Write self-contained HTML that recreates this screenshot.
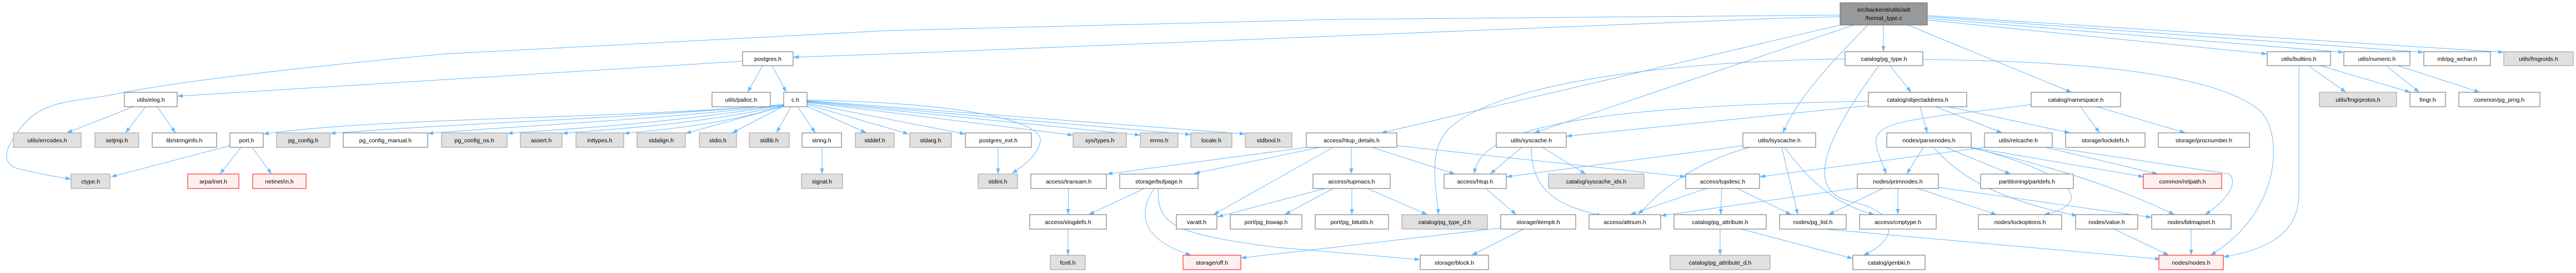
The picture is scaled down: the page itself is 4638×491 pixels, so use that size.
<!DOCTYPE html>
<html><head><meta charset="utf-8"><style>
html,body{margin:0;padding:0;background:#fff;}
svg{display:block;}
text{font-family:"Liberation Sans",sans-serif;font-size:10.5px;fill:#000;}
.w{fill:#fff;stroke:#666;stroke-width:1;}
.g{fill:#e0e0e0;stroke:#999;stroke-width:1;}
.r{fill:#fff0f0;stroke:#f00;stroke-width:1;}
.e{fill:none;stroke:#63b8ff;stroke-width:1;marker-end:url(#a);}
</style></head><body>
<svg width="4638" height="491" viewBox="0 0 4638 491" xmlns="http://www.w3.org/2000/svg">
<defs><marker id="a" markerUnits="userSpaceOnUse" markerWidth="11" markerHeight="8" refX="10" refY="3.5" orient="auto"><path d="M0,0 L10,3.5 L0,7 z" fill="#63b8ff"/></marker></defs>
<g>
<!-- root edges -->
<path class="e" d="M3391,45 L3391,93"/>
<path class="e" d="M3435,45 L3730,166"/>
<path class="e" d="M3470,36 L4082,97"/>
<path class="e" d="M3470,33 L4220,94"/>
<path class="e" d="M3470,30 L4364,94"/>
<path class="e" d="M3470,28 L4508,94"/>
<path class="e" d="M3363,45 C3300,110 3240,170 3210,239"/>
<path class="e" d="M3338,45 L2762,239"/>
<path class="e" d="M3313,45 L2487,239"/>
<path class="e" d="M3313,30 L3200,33 L2400,65 L1600,97 L1428,103"/>
<path class="e" d="M3313,27 L2400,35 L1600,55 L800,97 C500,125 300,150 204,170 C120,185 70,180 30,240 C0,280 10,300 40,305 C70,312 100,318 128,322"/>
<!-- postgres -->
<path class="e" d="M1337,110 L319,173"/>
<path class="e" d="M1373,118 L1346,166"/>
<path class="e" d="M1390,118 L1416,166"/>
<!-- c.h -->
<path class="e" d="M1411,188 C1100,215 700,210 474,241"/>
<path class="e" d="M1411,188 C1100,215 850,220 594,240"/>
<path class="e" d="M1411,189 C1150,218 950,225 770,240"/>
<path class="e" d="M1411,189 C1200,222 1050,230 913,240"/>
<path class="e" d="M1411,190 C1250,225 1100,232 1012,240"/>
<path class="e" d="M1411,190 C1300,225 1200,232 1123,240"/>
<path class="e" d="M1411,191 L1234,240"/>
<path class="e" d="M1411,191 L1318,239"/>
<path class="e" d="M1424,192 L1398,239"/>
<path class="e" d="M1436,192 L1468,239"/>
<path class="e" d="M1453,191 L1560,239"/>
<path class="e" d="M1453,188 L1636,241"/>
<path class="e" d="M1453,186 L1738,241"/>
<path class="e" d="M1453,184 L1932,243"/>
<path class="e" d="M1453,183 L2053,243"/>
<path class="e" d="M1453,182 L2144,242"/>
<path class="e" d="M1453,181 L2242,241"/>
<path class="e" d="M1453,180 C1750,185 1880,220 1873,255 C1868,280 1840,300 1822,312"/>
<path class="e" d="M1480,265 L1480,313"/>
<!-- elog / port -->
<path class="e" d="M240,192 L120,239"/>
<path class="e" d="M262,192 L226,239"/>
<path class="e" d="M283,192 L316,239"/>
<path class="e" d="M414,262 L200,318"/>
<path class="e" d="M434,265 L396,313"/>
<path class="e" d="M454,265 L489,313"/>
<path class="e" d="M1797,265 L1797,313"/>
<!-- htup_details -->
<path class="e" d="M2352,265 L1993,313"/>
<path class="e" d="M2376,265 L2150,312"/>
<path class="e" d="M2400,265 L2185,386"/>
<path class="e" d="M2433,265 L2433,313"/>
<path class="e" d="M2470,265 L2620,313"/>
<path class="e" d="M2515,262 L3035,318"/>
<!-- tupmacs -->
<path class="e" d="M2386,339 L2192,390"/>
<path class="e" d="M2400,339 L2313,386"/>
<path class="e" d="M2434,339 L2434,386"/>
<path class="e" d="M2462,339 L2570,386"/>
<!-- bufpage / transam / xlogdefs -->
<path class="e" d="M2060,339 L1960,386"/>
<path class="e" d="M2078,339 C2050,380 2050,430 2145,459"/>
<path class="e" d="M2085,339 C2085,400 2100,420 2300,445 L2557,467"/>
<path class="e" d="M1924,339 L1923,386"/>
<path class="e" d="M1923,412 L1923,459"/>
<!-- htup / itemptr -->
<path class="e" d="M2675,339 L2730,386"/>
<path class="e" d="M2743,412 L2650,459"/>
<path class="e" d="M2702,410 L2400,445 L2234,464"/>
<!-- syscache -->
<path class="e" d="M2740,265 L2683,313"/>
<path class="e" d="M2777,265 L2855,313"/>
<path class="e" d="M2757,265 C2757,340 2800,370 2885,388"/>
<!-- lsyscache -->
<path class="e" d="M3138,262 L2712,318"/>
<path class="e" d="M3150,265 C3060,290 3000,330 2950,386"/>
<path class="e" d="M3208,265 L3237,386"/>
<path class="e" d="M3213,265 C3260,330 3310,370 3375,386"/>
<!-- tupdesc / pg_attribute -->
<path class="e" d="M3072,339 L2935,386"/>
<path class="e" d="M3100,339 L3098,386"/>
<path class="e" d="M3128,339 L3225,386"/>
<path class="e" d="M3097,412 L3097,459"/>
<path class="e" d="M3135,412 L3336,465"/>
<!-- objectaddress -->
<path class="e" d="M3364,182 C2950,190 2660,215 2655,313"/>
<path class="e" d="M3364,190 L2820,245"/>
<path class="e" d="M3457,192 L3470,239"/>
<path class="e" d="M3485,192 L3605,239"/>
<path class="e" d="M3508,192 L3727,239"/>
<!-- namespace -->
<path class="e" d="M3657,188 C3450,215 3370,215 3378,260 C3382,280 3390,295 3396,313"/>
<path class="e" d="M3746,192 L3780,239"/>
<path class="e" d="M3775,192 L3935,239"/>
<!-- parsenodes -->
<path class="e" d="M3463,265 L3433,313"/>
<path class="e" d="M3503,265 L3620,313"/>
<path class="e" d="M3481,265 C3530,320 3600,360 3740,388"/>
<path class="e" d="M3549,265 C3760,320 3760,370 3680,386"/>
<path class="e" d="M3549,265 L3860,318"/>
<path class="e" d="M3549,266 C3700,300 3820,340 3915,386"/>
<!-- relcache -->
<path class="e" d="M3573,265 L3168,318"/>
<path class="e" d="M3683,265 L3885,313"/>
<path class="e" d="M3695,265 L4014,313 C4030,330 4010,360 3970,386"/>
<!-- primnodes -->
<path class="e" d="M3344,338 L2990,388"/>
<path class="e" d="M3390,339 L3292,386"/>
<path class="e" d="M3417,339 L3417,386"/>
<path class="e" d="M3453,339 L3595,386"/>
<path class="e" d="M3490,337 L3874,391"/>
<!-- pg_type.h -->
<path class="e" d="M3403,118 L3441,166"/>
<path class="e" d="M3322,106 C3000,110 2700,150 2610,230 C2570,270 2585,330 2590,386"/>
<path class="e" d="M3383,118 C3300,230 3240,340 3330,362 C3420,380 3420,430 3355,459"/>
<path class="e" d="M3462,107 C3800,110 4000,140 4070,200 C4110,240 4110,380 3980,459"/>
<!-- to nodes.h -->
<path class="e" d="M3285,412 L3890,466"/>
<path class="e" d="M3806,412 L3905,459"/>
<path class="e" d="M3945,412 L3945,459"/>
<!-- builtins / numeric -->
<path class="e" d="M4156,118 L4224,166"/>
<path class="e" d="M4177,118 L4340,166"/>
<path class="e" d="M4139,118 L4139,350 C4139,420 4080,450 4003,462"/>
<path class="e" d="M4296,118 L4356,166"/>
<path class="e" d="M4317,118 L4465,166"/>
</g>
<g text-anchor="middle">
<!-- root -->
<rect x="3313" y="5" width="157" height="40" fill="#999" stroke="#666"/>
<text x="3391.5" y="21">src/backend/utils/adt</text><text x="3391.5" y="36">/format_type.c</text>
<!-- row1 -->
<rect class="w" x="1337" y="93" width="91" height="25"/><text x="1382.5" y="109.5">postgres.h</text>
<rect class="w" x="3322" y="93" width="140" height="25"/><text x="3392" y="109.5">catalog/pg_type.h</text>
<rect class="w" x="4082" y="93" width="114" height="25"/><text x="4139" y="109.5">utils/builtins.h</text>
<rect class="w" x="4220" y="93" width="119" height="25"/><text x="4279.5" y="109.5">utils/numeric.h</text>
<rect class="w" x="4364" y="93" width="120" height="25"/><text x="4424" y="109.5">mb/pg_wchar.h</text>
<rect class="g" x="4508" y="93" width="125" height="25"/><text x="4570.5" y="109.5">utils/fmgroids.h</text>
<!-- row2 -->
<rect class="w" x="224" y="166" width="95" height="26"/><text x="271.5" y="183">utils/elog.h</text>
<rect class="w" x="1282" y="166" width="105" height="26"/><text x="1334.5" y="183">utils/palloc.h</text>
<rect class="w" x="1411" y="166" width="42" height="26"/><text x="1432" y="183">c.h</text>
<rect class="w" x="3364" y="166" width="177" height="26"/><text x="3452.5" y="183">catalog/objectaddress.h</text>
<rect class="w" x="3657" y="166" width="161" height="26"/><text x="3737.5" y="183">catalog/namespace.h</text>
<rect class="g" x="4176" y="166" width="139" height="26"/><text x="4245.5" y="183">utils/fmgrprotos.h</text>
<rect class="w" x="4339" y="166" width="64" height="26"/><text x="4371" y="183">fmgr.h</text>
<rect class="w" x="4427" y="166" width="146" height="26"/><text x="4500" y="183">common/pg_prng.h</text>
<!-- row3 -->
<rect class="g" x="24" y="239" width="122" height="26"/><text x="85" y="256">utils/errcodes.h</text>
<rect class="g" x="171" y="239" width="79" height="26"/><text x="210.5" y="256">setjmp.h</text>
<rect class="w" x="274" y="239" width="116" height="26"/><text x="332" y="256">lib/stringinfo.h</text>
<rect class="w" x="414" y="239" width="60" height="26"/><text x="444" y="256">port.h</text>
<rect class="g" x="498" y="239" width="96" height="26"/><text x="546" y="256">pg_config.h</text>
<rect class="w" x="618" y="239" width="152" height="26"/><text x="694" y="256">pg_config_manual.h</text>
<rect class="g" x="795" y="239" width="118" height="26"/><text x="854" y="256">pg_config_os.h</text>
<rect class="g" x="937" y="239" width="75" height="26"/><text x="974.5" y="256">assert.h</text>
<rect class="g" x="1037" y="239" width="86" height="26"/><text x="1080" y="256">inttypes.h</text>
<rect class="g" x="1147" y="239" width="87" height="26"/><text x="1190.5" y="256">stdalign.h</text>
<rect class="g" x="1259" y="239" width="67" height="26"/><text x="1292.5" y="256">stdio.h</text>
<rect class="g" x="1349" y="239" width="72" height="26"/><text x="1385" y="256">stdlib.h</text>
<rect class="w" x="1444" y="239" width="71" height="26"/><text x="1479.5" y="256">string.h</text>
<rect class="g" x="1540" y="239" width="70" height="26"/><text x="1575" y="256">stddef.h</text>
<rect class="g" x="1638" y="239" width="75" height="26"/><text x="1675.5" y="256">stdarg.h</text>
<rect class="w" x="1738" y="239" width="119" height="26"/><text x="1797.5" y="256">postgres_ext.h</text>
<rect class="g" x="1932" y="239" width="96" height="26"/><text x="1980" y="256">sys/types.h</text>
<rect class="g" x="2053" y="239" width="68" height="26"/><text x="2087" y="256">errno.h</text>
<rect class="g" x="2144" y="239" width="74" height="26"/><text x="2181" y="256">locale.h</text>
<rect class="g" x="2242" y="239" width="84" height="26"/><text x="2284" y="256">stdbool.h</text>
<rect class="w" x="2352" y="239" width="163" height="26"/><text x="2433.5" y="256">access/htup_details.h</text>
<rect class="w" x="2694" y="239" width="126" height="26"/><text x="2757" y="256">utils/syscache.h</text>
<rect class="w" x="3138" y="239" width="131" height="26"/><text x="3203.5" y="256">utils/lsyscache.h</text>
<rect class="w" x="3397" y="239" width="152" height="26"/><text x="3473" y="256">nodes/parsenodes.h</text>
<rect class="w" x="3573" y="239" width="122" height="26"/><text x="3634" y="256">utils/relcache.h</text>
<rect class="w" x="3719" y="239" width="143" height="26"/><text x="3790.5" y="256">storage/lockdefs.h</text>
<rect class="w" x="3886" y="239" width="164" height="26"/><text x="3968" y="256">storage/procnumber.h</text>
<!-- row4 -->
<rect class="g" x="128" y="313" width="70" height="26"/><text x="163" y="330">ctype.h</text>
<rect class="r" x="338" y="313" width="92" height="26"/><text x="384" y="330">arpa/inet.h</text>
<rect class="r" x="455" y="313" width="96" height="26"/><text x="503" y="330">netinet/in.h</text>
<rect class="g" x="1443" y="313" width="74" height="26"/><text x="1480" y="330">signal.h</text>
<rect class="g" x="1761" y="313" width="71" height="26"/><text x="1796.5" y="330">stdint.h</text>
<rect class="w" x="1856" y="313" width="136" height="26"/><text x="1924" y="330">access/transam.h</text>
<rect class="w" x="2016" y="313" width="141" height="26"/><text x="2086.5" y="330">storage/bufpage.h</text>
<rect class="w" x="2364" y="313" width="139" height="26"/><text x="2433.5" y="330">access/tupmacs.h</text>
<rect class="w" x="2600" y="313" width="112" height="26"/><text x="2656" y="330">access/htup.h</text>
<rect class="g" x="2788" y="313" width="172" height="26"/><text x="2874" y="330">catalog/syscache_ids.h</text>
<rect class="w" x="3035" y="313" width="133" height="26"/><text x="3101.5" y="330">access/tupdesc.h</text>
<rect class="w" x="3344" y="313" width="146" height="26"/><text x="3417" y="330">nodes/primnodes.h</text>
<rect class="w" x="3566" y="313" width="167" height="26"/><text x="3649.5" y="330">partitioning/partdefs.h</text>
<rect class="r" x="3859" y="313" width="141" height="26"/><text x="3929.5" y="330">common/relpath.h</text>
<!-- row5 -->
<rect class="w" x="1854" y="386" width="138" height="26"/><text x="1923" y="403">access/xlogdefs.h</text>
<rect class="w" x="2118" y="386" width="73" height="26"/><text x="2154.5" y="403">varatt.h</text>
<rect class="w" x="2215" y="386" width="129" height="26"/><text x="2279.5" y="403">port/pg_bswap.h</text>
<rect class="w" x="2368" y="386" width="132" height="26"/><text x="2434" y="403">port/pg_bitutils.h</text>
<rect class="g" x="2524" y="386" width="154" height="26"/><text x="2601" y="403">catalog/pg_type_d.h</text>
<rect class="w" x="2702" y="386" width="135" height="26"/><text x="2769.5" y="403">storage/itemptr.h</text>
<rect class="w" x="2861" y="386" width="129" height="26"/><text x="2925.5" y="403">access/attnum.h</text>
<rect class="w" x="3014" y="386" width="166" height="26"/><text x="3097" y="403">catalog/pg_attribute.h</text>
<rect class="w" x="3204" y="386" width="120" height="26"/><text x="3264" y="403">nodes/pg_list.h</text>
<rect class="w" x="3348" y="386" width="138" height="26"/><text x="3417" y="403">access/cmptype.h</text>
<rect class="w" x="3562" y="386" width="150" height="26"/><text x="3637" y="403">nodes/lockoptions.h</text>
<rect class="w" x="3737" y="386" width="112" height="26"/><text x="3793" y="403">nodes/value.h</text>
<rect class="w" x="3874" y="386" width="143" height="26"/><text x="3945.5" y="403">nodes/bitmapset.h</text>
<!-- row6 -->
<rect class="g" x="1891" y="459" width="63" height="26"/><text x="1922.5" y="476">fcntl.h</text>
<rect class="r" x="2130" y="459" width="104" height="26"/><text x="2182" y="476">storage/off.h</text>
<rect class="w" x="2557" y="459" width="123" height="26"/><text x="2618.5" y="476">storage/block.h</text>
<rect class="g" x="3007" y="459" width="180" height="26"/><text x="3097" y="476">catalog/pg_attribute_d.h</text>
<rect class="w" x="3336" y="459" width="130" height="26"/><text x="3401" y="476">catalog/genbki.h</text>
<rect class="r" x="3887" y="459" width="116" height="26"/><text x="3945" y="476">nodes/nodes.h</text>
</g>
</svg>
</body></html>
